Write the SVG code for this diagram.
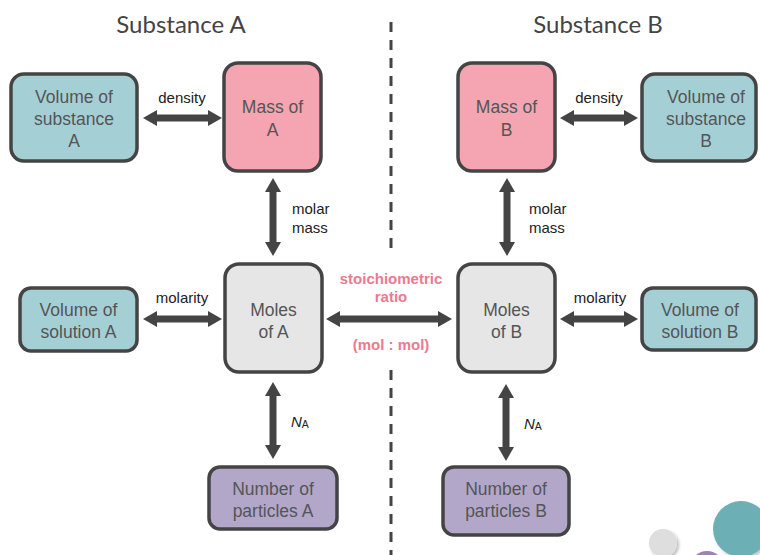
<svg xmlns="http://www.w3.org/2000/svg" width="760" height="555" viewBox="0 0 760 555">
  <defs>
    <marker id="head" markerUnits="userSpaceOnUse" viewBox="0 0 14 16" markerWidth="14" markerHeight="16" refX="4" refY="8" orient="auto-start-reverse">
      <path d="M0,0 L14,8 L0,16 z" fill="#444"/>
    </marker>
    <filter id="soft" x="-50%" y="-50%" width="200%" height="200%">
      <feDropShadow dx="2" dy="2" stdDeviation="1.5" flood-color="#000" flood-opacity="0.25"/>
    </filter>
  </defs>
  <style>
    .box { stroke: #444; stroke-width: 3.5; }
    .mass { fill: #f4a5b1; }
    .vol { fill: #a4d0d5; }
    .mol { fill: #e6e6e6; }
    .num { fill: #b2a7c9; }
    .lbl { font-family: "Liberation Sans", Arial, sans-serif; font-size: 17.5px; fill: #555; text-anchor: middle; }
    .edge { font-family: "Liberation Sans", Arial, sans-serif; font-size: 15px; fill: #222; }
    .title { font-family: Lato, "Open Sans", sans-serif; font-size: 24px; fill: #444; text-anchor: middle; }
    .ratio { font-family: "Liberation Sans", Arial, sans-serif; font-size: 15px; font-weight: bold; fill: #ec7a90; text-anchor: middle; }
    .arrow { stroke: #444; stroke-width: 7; fill: none; marker-start: url(#head); marker-end: url(#head); }
    .divider { stroke: #444; stroke-width: 3; stroke-dasharray: 10 8; }
  </style>

  <rect width="760" height="555" fill="#fff"/>

  <!-- column titles -->
  <text class="title" x="181" y="33">Substance A</text>
  <text class="title" x="598" y="33">Substance B</text>

  <!-- dashed divider between the two substances -->
  <line class="divider" x1="391" y1="22" x2="391" y2="256"/>
  <line class="divider" x1="391" y1="370" x2="391" y2="555"/>

  <!-- connectors -->
  <g id="connectors">
    <line class="arrow" x1="153" y1="118" x2="212" y2="118"/>
    <text class="edge" x="182" y="103" text-anchor="middle">density</text>
    <line class="arrow" x1="570" y1="118" x2="628" y2="118"/>
    <text class="edge" x="599" y="103" text-anchor="middle">density</text>

    <line class="arrow" x1="273" y1="188" x2="273" y2="246"/>
    <text class="edge" x="292" y="214">molar</text>
    <text class="edge" x="292" y="233">mass</text>
    <line class="arrow" x1="507" y1="188" x2="507" y2="246"/>
    <text class="edge" x="529" y="214">molar</text>
    <text class="edge" x="529" y="233">mass</text>

    <line class="arrow" x1="153" y1="319" x2="212" y2="319"/>
    <text class="edge" x="182" y="303" text-anchor="middle">molarity</text>
    <line class="arrow" x1="570" y1="319" x2="628" y2="319"/>
    <text class="edge" x="600" y="303" text-anchor="middle">molarity</text>

    <line class="arrow" x1="336" y1="319" x2="442" y2="319"/>
    <text class="ratio" x="391" y="284">stoichiometric</text>
    <text class="ratio" x="391" y="302">ratio</text>
    <text class="ratio" x="391" y="350">(mol : mol)</text>

    <line class="arrow" x1="273" y1="392" x2="273" y2="449"/>
    <text class="edge" x="291" y="427"><tspan font-style="italic">N</tspan><tspan font-size="10.5px" dy="1">A</tspan></text>
    <line class="arrow" x1="506" y1="394" x2="506" y2="451"/>
    <text class="edge" x="524" y="429"><tspan font-style="italic">N</tspan><tspan font-size="10.5px" dy="1">A</tspan></text>
  </g>

  <!-- substance A -->
  <g id="volume-substance-a">
    <rect class="box vol" x="11" y="74" width="126" height="87" rx="13"/>
    <text class="lbl" x="74" y="103">Volume of</text>
    <text class="lbl" x="74" y="125">substance</text>
    <text class="lbl" x="74" y="147">A</text>
  </g>
  <g id="mass-a">
    <rect class="box mass" x="224" y="63" width="97" height="108" rx="14"/>
    <text class="lbl" x="272.5" y="113">Mass of</text>
    <text class="lbl" x="272.5" y="136">A</text>
  </g>
  <g id="volume-solution-a">
    <rect class="box vol" x="20" y="288" width="117" height="63" rx="11"/>
    <text class="lbl" x="78.5" y="316">Volume of</text>
    <text class="lbl" x="78.5" y="338">solution A</text>
  </g>
  <g id="moles-a">
    <rect class="box mol" x="225" y="264" width="97" height="108" rx="14"/>
    <text class="lbl" x="273.5" y="316">Moles</text>
    <text class="lbl" x="273.5" y="338">of A</text>
  </g>
  <g id="particles-a">
    <rect class="box num" x="209" y="467" width="128" height="62" rx="11"/>
    <text class="lbl" x="273" y="495">Number of</text>
    <text class="lbl" x="273" y="517">particles A</text>
  </g>

  <!-- substance B -->
  <g id="mass-b">
    <rect class="box mass" x="458" y="63" width="97" height="108" rx="14"/>
    <text class="lbl" x="506.5" y="113">Mass of</text>
    <text class="lbl" x="506.5" y="136">B</text>
  </g>
  <g id="volume-substance-b">
    <rect class="box vol" x="642" y="74" width="114" height="87" rx="13"/>
    <text class="lbl" x="706" y="103">Volume of</text>
    <text class="lbl" x="706" y="125">substance</text>
    <text class="lbl" x="706" y="147">B</text>
  </g>
  <g id="moles-b">
    <rect class="box mol" x="458" y="264" width="97" height="108" rx="14"/>
    <text class="lbl" x="506.5" y="316">Moles</text>
    <text class="lbl" x="506.5" y="338">of B</text>
  </g>
  <g id="volume-solution-b">
    <rect class="box vol" x="642" y="288" width="114" height="62" rx="11"/>
    <text class="lbl" x="700" y="316">Volume of</text>
    <text class="lbl" x="700" y="338">solution B</text>
  </g>
  <g id="particles-b">
    <rect class="box num" x="443" y="467" width="126" height="68" rx="11"/>
    <text class="lbl" x="506" y="495">Number of</text>
    <text class="lbl" x="506" y="517">particles B</text>
  </g>

  <!-- decorative dots, lower right corner -->
  <circle cx="663" cy="543" r="14" fill="#dedede" filter="url(#soft)"/>
  <circle cx="707" cy="568" r="17" fill="#9a83b5"/>
  <circle cx="741" cy="529" r="28" fill="#6cb0b6" filter="url(#soft)"/>
</svg>
